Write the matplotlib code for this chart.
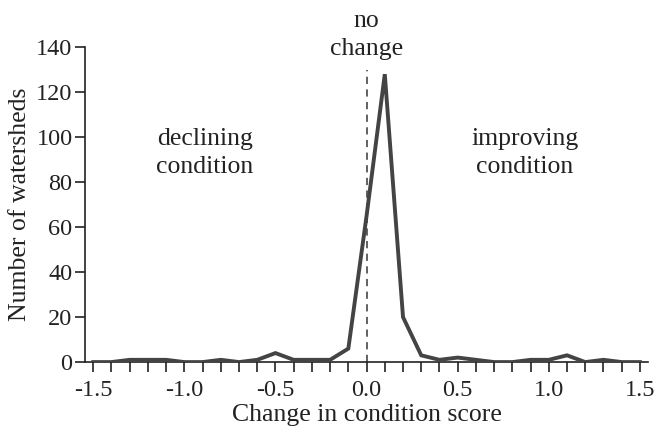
import numpy as np
import matplotlib
matplotlib.use("Agg")
import matplotlib.pyplot as plt

plt.rcParams['font.family'] = ['Liberation Serif', 'DejaVu Serif']

# change in condition score (bin centres) and watershed counts
score = [-1.5, -1.4, -1.3, -1.2, -1.1, -1.0, -0.9, -0.8, -0.7, -0.6, -0.5,
         -0.4, -0.3, -0.2, -0.1, 0.0, 0.1, 0.2, 0.3, 0.4, 0.5,
         0.6, 0.7, 0.8, 0.9, 1.0, 1.1, 1.2, 1.3, 1.4, 1.5]
counts = [0, 0, 1, 1, 1, 0, 0, 1, 0, 1, 4,
          1, 1, 1, 6, 65, 128, 20, 3, 1, 2,
          1, 0, 0, 1, 1, 3, 0, 1, 0, 0]

xticks = [-1.5, -1.0, -0.5, 0.0, 0.5, 1.0, 1.5]
yticks = [0, 20, 40, 60, 80, 100, 120, 140]

fig = plt.figure(figsize=(6.54, 4.29), dpi=100)
ax = fig.add_axes([0.130, 0.156, 0.861, 0.734])

ax.plot([0, 0], [0, 130], color='#555555', lw=1.3, ls=(0, (4, 3)), zorder=2)
ax.plot(score, counts, color='#444444', lw=2.8, solid_joinstyle='miter', zorder=3)

ax.set_xlim(-1.545, 1.545)
ax.set_ylim(0, 140)
minor = np.round(np.arange(-1.5, 1.51, 0.1), 1)
ax.set_xticks(minor)
ax.set_xticklabels(['%.1f' % t if t in xticks else '' for t in minor])
ax.set_yticks(yticks)

for s in ['top', 'right']:
    ax.spines[s].set_visible(False)
for s in ['left', 'bottom']:
    ax.spines[s].set_linewidth(1.2)
    ax.spines[s].set_color('#222222')

ax.tick_params(direction='out', length=7, width=1.2, color='#222222',
               labelsize=17.5, labelcolor='#222222', pad=2)
ax.tick_params(axis='x', pad=6)

ax.set_xlabel('Change in condition score', fontsize=18.5, color='#222222', labelpad=2)
ax.set_ylabel('Number of watersheds', fontsize=18.5, color='#222222', labelpad=4)

ax.text(0, 145.5, 'no\nchange', ha='center', va='center', fontsize=18.5,
        color='#222222', linespacing=1.35, clip_on=False)
ax.text(-0.886, 93, 'declining\ncondition', ha='center', va='center',
        fontsize=18.5, color='#222222', linespacing=1.35)
ax.text(0.87, 93, 'improving\ncondition', ha='center', va='center',
        fontsize=18.5, color='#222222', linespacing=1.35)

fig.savefig('out.png', dpi=100)
